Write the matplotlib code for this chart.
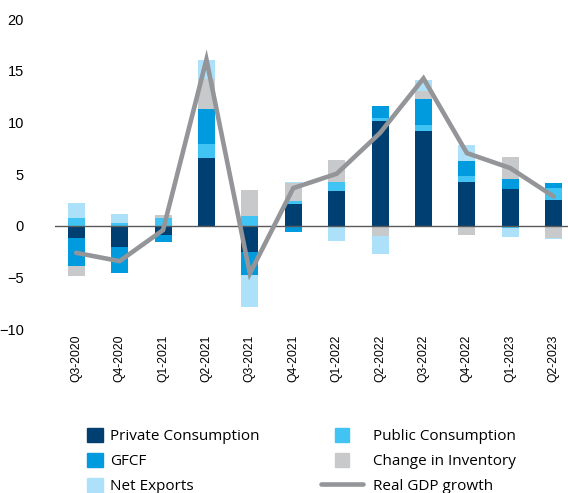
import matplotlib
matplotlib.use("Agg")
import matplotlib.pyplot as plt
import numpy as np
from matplotlib.legend_handler import HandlerPatch
from matplotlib.lines import Line2D
from matplotlib.patches import Patch, Rectangle

QUARTERS = ["Q3-2020", "Q4-2020", "Q1-2021", "Q2-2021", "Q3-2021", "Q4-2021",
            "Q1-2022", "Q2-2022", "Q3-2022", "Q4-2022", "Q1-2023", "Q2-2023"]

private_cons = [-1.2, -2.0, -0.9, 6.57, -2.56, 2.15, 3.43, 10.13, 9.16, 4.3, 3.58, 2.52]
public_cons = [0.74, 0.3, 0.8, 1.36, 0.97, 0.23, 0.78, 0.32, 0.65, 0.49, -0.23, 1.13]
gfcf = [-2.65, -2.55, -0.7, 3.43, -2.2, -0.55, 0.0, 1.13, 2.49, 1.46, 0.97, 0.55]
inventory = [-1.0, 0.0, 0.3, 2.9, 2.52, 1.75, 2.2, -0.97, 0.74, -0.87, 2.16, -1.13]
net_exports = [1.52, 0.83, 0.0, 1.84, -3.1, 0.16, -1.46, -1.75, 1.07, 1.62, -0.87, -0.16]
gdp_growth = [-2.6, -3.4, -0.4, 16.1, -4.6, 3.66, 5.05, 9.0, 14.27, 7.05, 5.6, 2.85]

SERIES = [
    ("Private Consumption", private_cons, "#003f72"),
    ("Public Consumption", public_cons, "#41c4f4"),
    ("GFCF", gfcf, "#009ade"),
    ("Change in Inventory", inventory, "#c8c9cb"),
    ("Net Exports", net_exports, "#ade1fa"),
]
GDP_COLOR = "#939598"

fig = plt.figure(figsize=(5.68, 4.93), dpi=100)
ax = fig.add_axes([0.096, 0.332, 0.917, 0.629])

x = np.arange(len(QUARTERS))
pos_base = np.zeros(len(x))
neg_base = np.zeros(len(x))
for label, vals, color in SERIES:
    v = np.array(vals)
    bottom = np.where(v >= 0, pos_base, neg_base)
    ax.bar(x, v, width=0.39, bottom=bottom, color=color, edgecolor="none", zorder=2)
    pos_base += np.clip(v, 0, None)
    neg_base += np.clip(v, None, 0)

ax.plot(x, gdp_growth, color=GDP_COLOR, linewidth=3.3, solid_capstyle="round",
        solid_joinstyle="miter", zorder=4)
ax.axhline(0, color="#58595b", linewidth=1.0, zorder=3)

ax.set_xlim(-0.5, 11.5)
ax.set_ylim(-10, 20)
ax.set_yticks([-10, -5, 0, 5, 10, 15, 20])
ax.set_xticks(x)
ax.set_xticklabels(QUARTERS, rotation=90, fontsize=8.7, family="Liberation Sans")
for t in ax.get_yticklabels():
    t.set_fontsize(10.5)
    t.set_family("Liberation Sans")
ax.tick_params(length=0, pad=4)
ax.tick_params(axis="y", pad=22)
for s in ax.spines.values():
    s.set_visible(False)


def square_patch(legend, orig_handle, xdescent, ydescent, width, height, fontsize):
    # square swatch centred in the (wider) handle box
    side = height
    return Rectangle((-xdescent + (width - side) / 2, -ydescent), side, side)


leg_font = {"family": "Open Sans", "size": 11}
left_handles = [Patch(color=SERIES[0][2]), Patch(color=SERIES[2][2]), Patch(color=SERIES[4][2])]
left_labels = [SERIES[0][0], SERIES[2][0], SERIES[4][0]]
right_handles = [Patch(color=SERIES[1][2]), Patch(color=SERIES[3][2]),
                 Line2D([], [], color=GDP_COLOR, linewidth=3.3, solid_capstyle="round")]
right_labels = [SERIES[1][0], SERIES[3][0], "Real GDP growth"]

leg1 = fig.legend(left_handles, left_labels, loc="upper left", bbox_to_anchor=(0.153, 0.132),
                  frameon=False, prop=leg_font, handlelength=1.05, handleheight=1.0,
                  handletextpad=0.45, labelspacing=0.6, borderaxespad=0, borderpad=0)
leg2 = fig.legend(right_handles, right_labels, loc="upper left", bbox_to_anchor=(0.565, 0.132),
                  frameon=False, prop=leg_font, handlelength=2.75, handleheight=1.0,
                  handletextpad=0.65, labelspacing=0.6, borderaxespad=0, borderpad=0,
                  handler_map={Patch: HandlerPatch(patch_func=square_patch)})

fig.savefig("out.png", dpi=100)
